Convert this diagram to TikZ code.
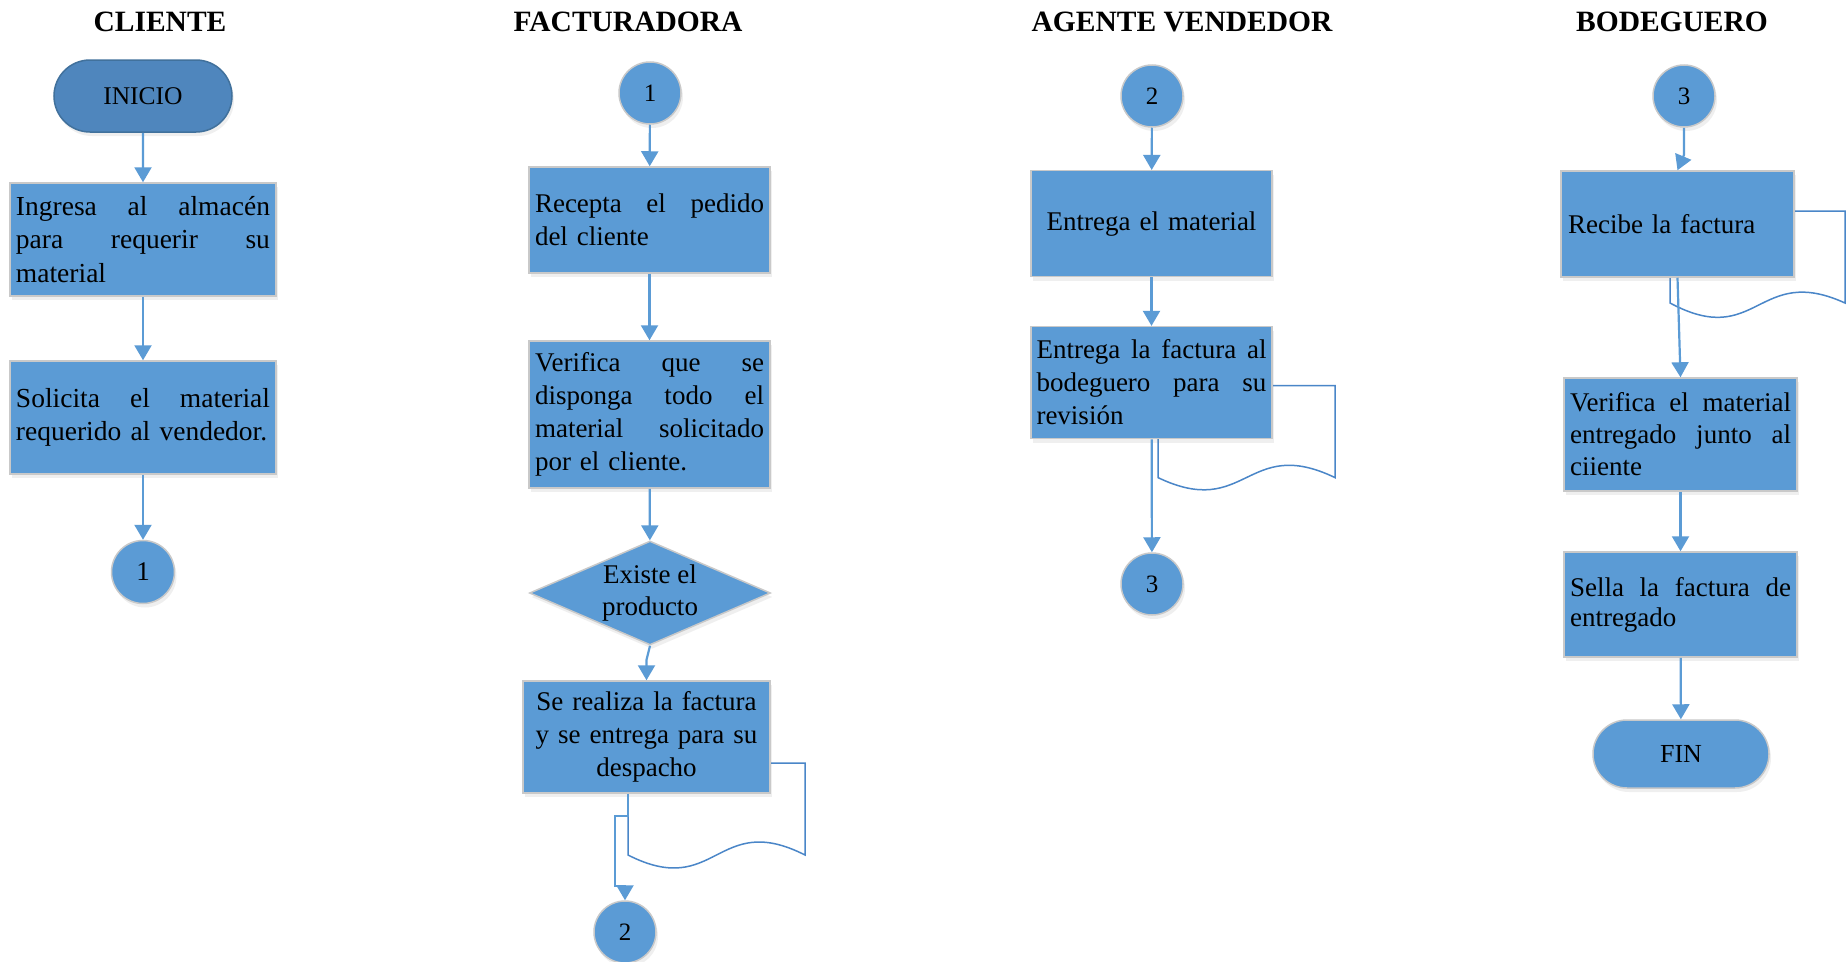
\documentclass[tikz,border=0pt]{standalone}
\usepackage{fontspec}
\setmainfont{Liberation Serif}
\usetikzlibrary{shapes.geometric,shapes.misc,arrows.meta,shadows}
\definecolor{boxblue}{HTML}{5B9BD5}
\definecolor{termblue}{HTML}{4F86BD}
\definecolor{termline}{HTML}{41719C}
\definecolor{boxline}{HTML}{C9C9C9}
\definecolor{arrowblue}{HTML}{5B9BD5}
\definecolor{docline}{HTML}{4A86C8}
\newcommand\jl[2]{\leavevmode\hbox to #1{#2}}
\newcommand\clf{\fontsize{27.5}{33.5}\selectfont}
\newcommand\faf{\fontsize{27}{33}\selectfont}
\newcommand\agf{\fontsize{27}{33}\selectfont}
\newcommand\bof{\fontsize{27}{32}\selectfont}
\newcommand\numf{\fontsize{25}{28}\selectfont}
\tikzset{
  shd/.style={drop shadow={opacity=0.12,shadow xshift=2pt,shadow yshift=-4pt}},
  procbox/.style={rectangle, fill=boxblue, draw=boxline, line width=1.5pt,
    inner xsep=5pt, inner ysep=0pt, align=left, shd},
  conn/.style={circle, fill=boxblue, draw=boxline, line width=1.5pt,
    inner sep=0pt, font=\numf, shd},
  termnode/.style={rounded rectangle, fill=boxblue, draw=boxline, line width=1.5pt,
    inner sep=0pt, shd},
  decision/.style={diamond, fill=boxblue, draw=boxline, line width=1.5pt,
    inner sep=0pt, shd},
  lanetitle/.style={inner sep=0pt, font=\bfseries\fontsize{29.5}{32}\selectfont},
  arr/.style={draw=arrowblue, line width=2.2pt, -{Triangle[length=15pt,width=17pt]}},
  docpath/.style={draw=docline, line width=1.5pt, line join=miter}
}
\begin{document}
\begin{tikzpicture}[x=1pt,y=-1pt]
\fill[white] (0,0) rectangle (1847,961);
\useasboundingbox (0,0) rectangle (1847,961);

% titles
\node[lanetitle] (tcl) at (160,22) {CLIENTE};
\node[lanetitle] (tfa) at (628,22) {FACTURADORA};
\node[lanetitle] (tag) at (1182,21.5) {AGENTE VENDEDOR};
\node[lanetitle] (tbo) at (1672,22) {BODEGUERO};

% document shapes (behind boxes)
\draw[docpath] (628,763) -- (805,763) -- (805,855)
  .. controls (716.5,810) and (716.5,900) .. (628,855) -- cycle;
\draw[docpath] (1158,385.7) -- (1335,385.7) -- (1335,477.6)
  .. controls (1246.5,435) and (1246.5,520) .. (1158,477.6) -- cycle;
\draw[docpath] (1670,211) -- (1845,211) -- (1845,303)
  .. controls (1757.5,263) and (1757.5,350) .. (1670,303) -- cycle;

% CLIENTE
\node[termnode, fill=termblue, draw=termline, minimum width=178pt, minimum height=72pt,
  font=\fontsize{25.5}{28}\selectfont] (ini) at (143,96) {INICIO};
\node[procbox, inner xsep=6pt, text width=254pt, minimum height=113pt, font=\clf] (ing) at (143,239.5)
  {\jl{254pt}{Ingresa\hfill al\hfill almacén}\\\jl{254pt}{para\hfill requerir\hfill su}\\material};
\node[procbox, inner xsep=6pt, text width=254pt, minimum height=113pt, font=\clf] (sol) at (143,417.5)
  {\jl{254pt}{Solicita\hfill el\hfill material}\\requerido al vendedor.};
\node[conn, minimum size=63pt, font=\fontsize{27}{30}\selectfont] (c1) at (143,572) {1};

% FACTURADORA
\node[conn, minimum size=62pt] (f1) at (650,93) {1};
\node[procbox, inner xsep=6pt, text width=229pt, minimum height=106pt, font=\faf] (rec) at (649.5,220)
  {\jl{229pt}{Recepta\hfill el\hfill pedido}\\del cliente};
\node[procbox, inner xsep=6pt, text width=229pt, minimum height=147pt, font=\faf] (ver) at (649.5,414.5)
  {\jl{229pt}{Verifica\hfill que\hfill se}\\\jl{229pt}{disponga\hfill todo\hfill el}\\\jl{229pt}{material\hfill solicitado}\\por el cliente.};
\node[decision, minimum width=241pt, minimum height=104pt] (dia) at (650,593) {};
\node[inner sep=0pt, align=center, font=\fontsize{27}{32}\selectfont] (diat) at (dia.center) {Existe el\\producto};
\node[procbox, align=center, inner xsep=7pt, text width=233pt, minimum height=112pt, font=\faf] (rea) at (646.5,737)
  {Se realiza la factura\\y se entrega para su\\despacho};
\node[conn, minimum size=62pt] (f2) at (625,932) {2};

% AGENTE VENDEDOR
\node[conn, minimum size=62pt] (a2) at (1152,96) {2};
\node[procbox, align=center, inner xsep=6pt, text width=229pt, minimum height=106pt, font=\agf] (ent) at (1151.5,223.7)
  {Entrega el material};
\node[procbox, inner xsep=5.5pt, text width=230pt, minimum height=112pt, font=\agf] (efa) at (1151.5,382.6)
  {\jl{230pt}{Entrega\hfill la\hfill factura\hfill al}\\\jl{230pt}{bodeguero\hfill para\hfill su}\\revisión};
\node[conn, minimum size=62pt] (a3) at (1152,584) {3};

% BODEGUERO
\node[conn, minimum size=62pt] (b3) at (1684,96) {3};
\node[procbox, inner xsep=7pt, text width=219pt, minimum height=106pt, font=\bof] (rcb) at (1677.5,224)
  {Recibe la factura};
\node[procbox, inner xsep=6pt, text width=221pt, minimum height=113pt, font=\bof] (vem) at (1680.5,434.5)
  {\jl{221pt}{Verifica\hfill el\hfill material}\\\jl{221pt}{entregado\hfill junto\hfill al}\\ciiente};
\node[procbox, inner xsep=6pt, text width=221pt, minimum height=105pt, font=\fontsize{27}{30}\selectfont] (sel) at (1680.5,604.5)
  {\jl{221pt}{Sella\hfill la\hfill factura\hfill de}\\entregado};
\node[termnode, minimum width=176pt, minimum height=68pt, font=\fontsize{26}{30}\selectfont] (fin) at (1681,754) {FIN};

% connectors
\draw[arr] (ini) -- (ing);
\draw[arr] (ing) -- (sol);
\draw[arr] (sol) -- (c1);

\draw[arr] (f1) -- (rec);
\draw[arr] (rec) -- (ver);
\draw[arr] (ver) -- (dia);
\draw[arr] (dia.south) -- ++(-3.5,14) -- (rea.north);
\draw[arr] ([xshift=-18.5pt]rea.south) -- ++(0,22) -- ++(-13,0) -- ++(0,70) -- ++(10,0) -- (f2.north);

\draw[arr] (a2) -- (ent);
\draw[arr] (ent) -- (efa);
\draw[arr] (efa) -- (a3);

\draw[arr] (b3.south) -- ++(0,27) -- (rcb.north);
\draw[arr] (rcb.south) -- (vem.north);
\draw[arr] (vem) -- (sel);
\draw[arr] (sel) -- (fin);
\end{tikzpicture}
\end{document}
